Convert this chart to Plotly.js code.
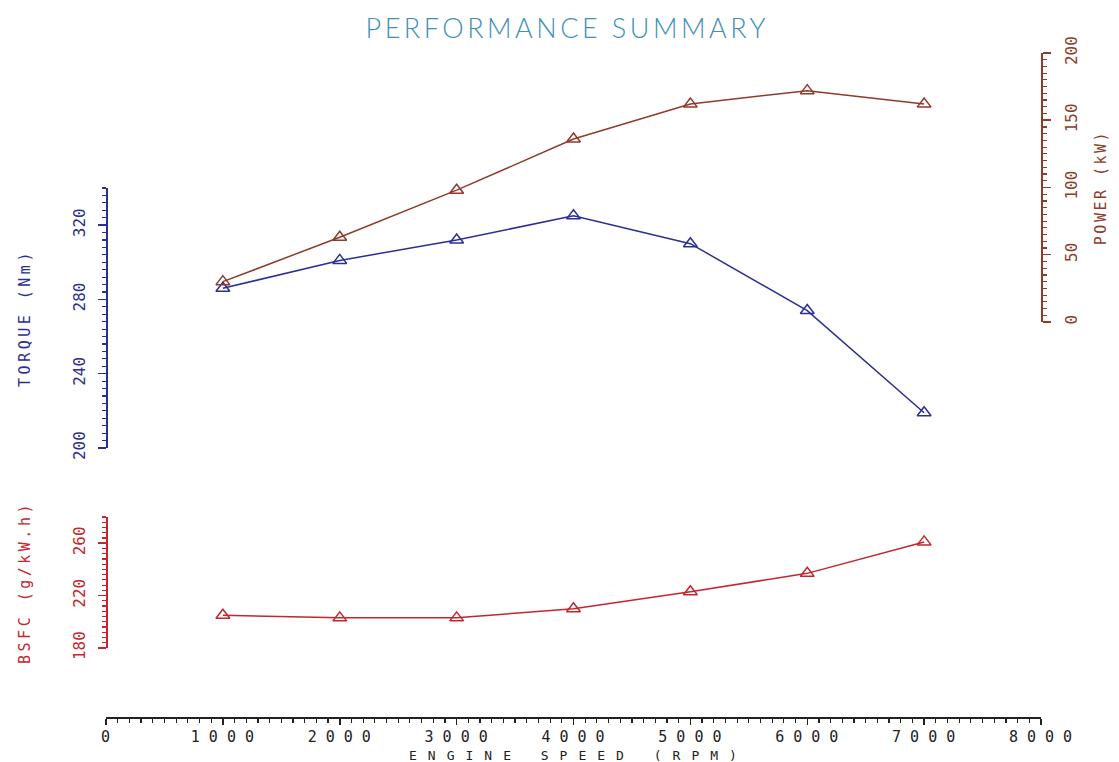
<!DOCTYPE html>
<html>
<head>
<meta charset="utf-8">
<script src="https://cdn.plot.ly/plotly-3.0.1.min.js"></script>
<style>
  html, body { margin: 0; padding: 0; background: #ffffff; }
  #chart { width: 1119px; height: 762px; }
  .xtick text { letter-spacing: 9px; }
  .annotation-text.xlabel { letter-spacing: 11px; }
  .ytitle { letter-spacing: 3.5px; }
  .y3title { letter-spacing: 3.5px; }
  .y2title { letter-spacing: 2.5px; }
  .gtitle { letter-spacing: 3.5px; }
</style>
</head>
<body>
<div id="chart"></div>
<script>
// ---- data ----
const engineSpeed = [1000, 2000, 3000, 4000, 5000, 6000, 7000];   // RPM
const torque      = [286, 301, 312, 325, 310, 274, 219];           // Nm
const power       = [30, 63, 98, 136, 162, 172, 162];              // kW
const bsfc        = [205, 203, 203, 210, 223, 237, 261];           // g/kW.h

const chartTitle  = 'PERFORMANCE SUMMARY';
const xTitle      = 'ENGINE SPEED (RPM)';
const torqueTitle = 'TORQUE (Nm)';
const powerTitle  = 'POWER (kW)';
const bsfcTitle   = 'BSFC (g/kW.h)';

const cTorque = '#2b2f93';
const cPower  = '#8e3b2b';
const cBsfc   = '#c4262e';
const cTitle  = '#3f8fb8';
const mono = 'DejaVu Sans Mono, Liberation Mono, monospace';

function series(y, axis, color) {
  return {
    x: engineSpeed, y: y, yaxis: axis, xaxis: 'x',
    type: 'scatter', mode: 'lines+markers', cliponaxis: false,
    line: {color: color, width: 1.5},
    marker: {symbol: 'triangle-up-open', size: 12, color: color, line: {color: color, width: 1.5}},
    hoverinfo: 'x+y'
  };
}

const data = [
  series(torque, 'y', cTorque),
  series(power, 'y2', cPower),
  series(bsfc, 'y3', cBsfc)
];

function yax(color, extra) {
  return Object.assign({
    showgrid: false, zeroline: false, showline: true,
    linecolor: color, linewidth: 1.5,
    ticks: 'outside', ticklen: 8, tickwidth: 1.5, tickcolor: color,
    tickangle: -90, ticklabelstandoff: 7,
    tickfont: {family: mono, size: 16, color: color},
    anchor: 'free', automargin: false, fixedrange: true
  }, extra);
}

const layout = {
  width: 1119, height: 762,
  margin: {l: 106, r: 78, t: 20, b: 45},
  paper_bgcolor: '#ffffff', plot_bgcolor: 'rgba(0,0,0,0)',
  showlegend: false,
  title: {
    text: chartTitle, x: 0.507, xref: 'container', xanchor: 'center',
    y: 0.962, yref: 'container', yanchor: 'middle',
    font: {family: 'Lato, DejaVu Sans, sans-serif', weight: 300, size: 27, color: cTitle}
  },
  xaxis: {
    range: [0, 8000], tick0: 0, dtick: 1000,
    anchor: 'free', position: 0,
    showgrid: false, zeroline: false, showline: true,
    linecolor: '#222', linewidth: 1.5,
    ticks: 'outside', ticklen: 6, tickwidth: 1.5, tickcolor: '#222',
    minor: {dtick: 100, ticks: 'outside', ticklen: 4, tickwidth: 1.2, tickcolor: '#222'},
    tickfont: {family: mono, size: 15, color: '#222'},
    ticklabelshift: 4, ticklabelstandoff: -1,
    automargin: false, fixedrange: true
  },
  yaxis: yax(cTorque, {
    domain: [0.3859, 0.7590], range: [200, 340], tick0: 200, dtick: 40,
    side: 'left', position: 0,
    minor: {dtick: 4, ticks: 'outside', ticklen: 4, tickwidth: 1.2, tickcolor: cTorque},
    title: {text: torqueTitle, standoff: 34, font: {family: mono, size: 15, color: cTorque}}
  }),
  yaxis2: yax(cPower, {
    domain: [0.5667, 0.9527], range: [0, 200], tick0: 0, dtick: 50,
    side: 'right', position: 1,
    minor: {dtick: 5, ticks: 'outside', ticklen: 4, tickwidth: 1.2, tickcolor: cPower},
    title: {text: powerTitle, standoff: 16, font: {family: mono, size: 15, color: cPower}}
  }),
  yaxis3: yax(cBsfc, {
    domain: [0.0990, 0.2869], range: [180, 280], tick0: 180, dtick: 40,
    side: 'left', position: 0,
    minor: {dtick: 4, ticks: 'outside', ticklen: 4, tickwidth: 1.2, tickcolor: cBsfc},
    title: {text: bsfcTitle, standoff: 34, font: {family: mono, size: 15, color: cBsfc}}
  }),
  annotations: [{
    text: xTitle, xref: 'paper', yref: 'paper',
    x: 0.5, y: -0.0555, xanchor: 'center', yanchor: 'middle', showarrow: false,
    xshift: 5, captureevents: false,
    font: {family: mono, size: 13, color: '#222'}
  }]
};

Plotly.newPlot('chart', data, layout, {displayModeBar: false, staticPlot: true}).then(function () {
  document.querySelectorAll('.annotation-text').forEach(function (t) { t.classList.add('xlabel'); });
});
</script>
</body>
</html>
